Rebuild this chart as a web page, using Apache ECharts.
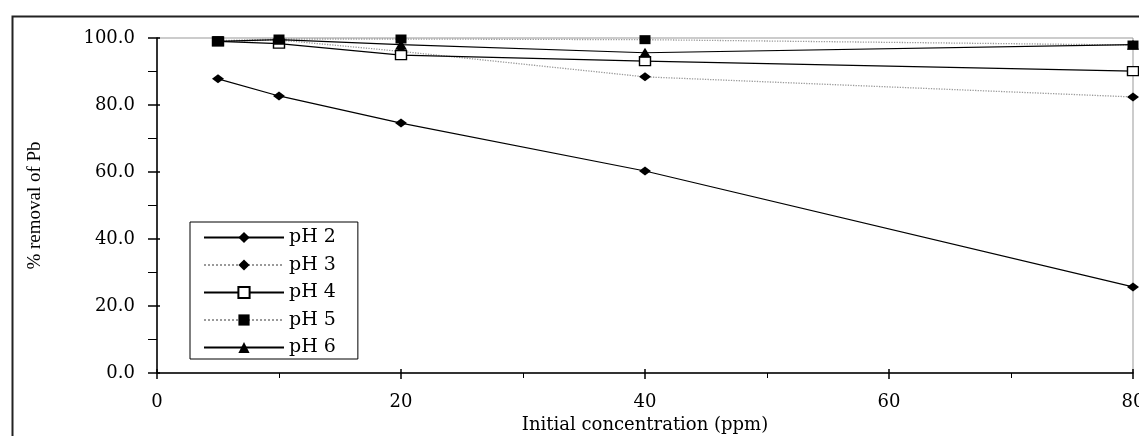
<!DOCTYPE html>
<html>
<head>
<meta charset="utf-8">
<script src="https://cdn.jsdelivr.net/npm/echarts@6/dist/echarts.min.js"></script>
<style>
html,body{margin:0;padding:0;background:#fff;}
#chart{width:1139px;height:436px;}
</style>
</head>
<body>
<div id="chart"></div>
<script>
// ---- data ----
const concentrations = [5, 10, 20, 40, 80];
const seriesNames = ['pH 2', 'pH 3', 'pH 4', 'pH 5', 'pH 6'];
const pH2 = [87.8, 82.7, 74.6, 60.3, 25.7];
const pH3 = [99.0, 99.4, 96.0, 88.4, 82.4];
const pH4 = [99.0, 98.3, 94.9, 93.1, 90.1];
const pH5 = [99.2, 99.7, 99.7, 99.5, 97.9];
const pH6 = [99.0, 99.5, 98.0, 95.6, 98.0];
const xAxisTitle = 'Initial concentration (ppm)';
const yAxisTitle = '% removal of Pb';

const serif = 'DejaVu Serif';
const pairs = v => concentrations.map((c, i) => [c, v[i]]);

const solid = {color: '#000', width: 1.2, type: 'solid'};
const dotted = {color: '#9a9a9a', width: 1.3, type: 'dotted'};

function mk(name, data, line, symbol, size, fill) {
  return {
    name: name, type: 'line', data: pairs(data),
    symbol: symbol, symbolSize: size,
    showSymbol: true,
    lineStyle: line,
    itemStyle: {color: fill, borderColor: '#000', borderWidth: fill === '#fff' ? 1.3 : 0},
    emphasis: {disabled: true},
    animation: false
  };
}

const chart = echarts.init(document.getElementById('chart'), null, {renderer: 'canvas'});
const axisCommon = {
  axisLine: {show: true, lineStyle: {color: '#000', width: 1.5}},
  splitLine: {show: false}
};
chart.setOption({
  animation: false,
  backgroundColor: '#fff',
  grid: {left: 157, top: 38, right: 6, bottom: 63, show: true, borderColor: '#999', borderWidth: 1,
         containLabel: false, outerBoundsMode: 'none'},
  graphic: [{
    type: 'rect', left: 10, top: 14, z: 100, silent: true,
    shape: {width: 1300, height: 600},
    style: {fill: 'none', stroke: '#222', lineWidth: 2}
  }],
  legend: {
    orient: 'vertical', left: 190, top: 222,
    padding: [6, 22, 2, 13],
    borderColor: '#000', borderWidth: 1,
    backgroundColor: '#fff',
    itemWidth: 80, itemHeight: 14, itemGap: 8.5,
    textStyle: {fontFamily: serif, fontSize: 19, color: '#000', lineHeight: 19},
    data: seriesNames
  },
  xAxis: [{
    type: 'value', min: 0, max: 80, interval: 20,
    ...axisCommon,
    axisTick: {show: true, length: 6, lineStyle: {color: '#000', width: 1.5}},
    minorTick: {show: true, splitNumber: 2, length: 5, lineStyle: {color: '#000', width: 1}},
    axisLabel: {fontFamily: serif, fontSize: 18, color: '#000', margin: 20},
    name: xAxisTitle, nameLocation: 'middle', nameGap: 41,
    nameTextStyle: {fontFamily: serif, fontSize: 18, color: '#000'}
  }, {
    type: 'value', min: 0, max: 80, interval: 20, position: 'bottom',
    axisLine: {show: false}, splitLine: {show: false},
    axisTick: {show: true, inside: true, length: 4, lineStyle: {color: '#000', width: 1.5}},
    axisLabel: {show: false}
  }],
  yAxis: [{
    type: 'value', min: 0, max: 100, interval: 20,
    ...axisCommon,
    axisTick: {show: true, length: 9, lineStyle: {color: '#000', width: 1.5}},
    minorTick: {show: true, splitNumber: 2, length: 9, lineStyle: {color: '#000', width: 1}},
    axisLabel: {fontFamily: serif, fontSize: 18, color: '#000', margin: 22, formatter: v => v.toFixed(1)},
    name: yAxisTitle, nameLocation: 'middle', nameGap: 112, nameRotate: 90,
    nameTextStyle: {fontFamily: 'Liberation Serif', fontSize: 19, color: '#000'}
  }, {
    type: 'value', min: 0, max: 100, interval: 20, position: 'left',
    axisLine: {show: false}, splitLine: {show: false},
    axisTick: {show: true, inside: true, length: 3, lineStyle: {color: '#000', width: 1.5}},
    axisLabel: {show: false}
  }],
  series: [
    mk('pH 2', pH2, solid, 'diamond', [12, 9], '#000'),
    mk('pH 3', pH3, dotted, 'diamond', [12, 9], '#000'),
    mk('pH 4', pH4, solid, 'rect', [11, 9], '#fff'),
    mk('pH 5', pH5, dotted, 'rect', [11, 9], '#000'),
    mk('pH 6', pH6, solid, 'triangle', [12, 10], '#000')
  ]
});
</script>
</body>
</html>
